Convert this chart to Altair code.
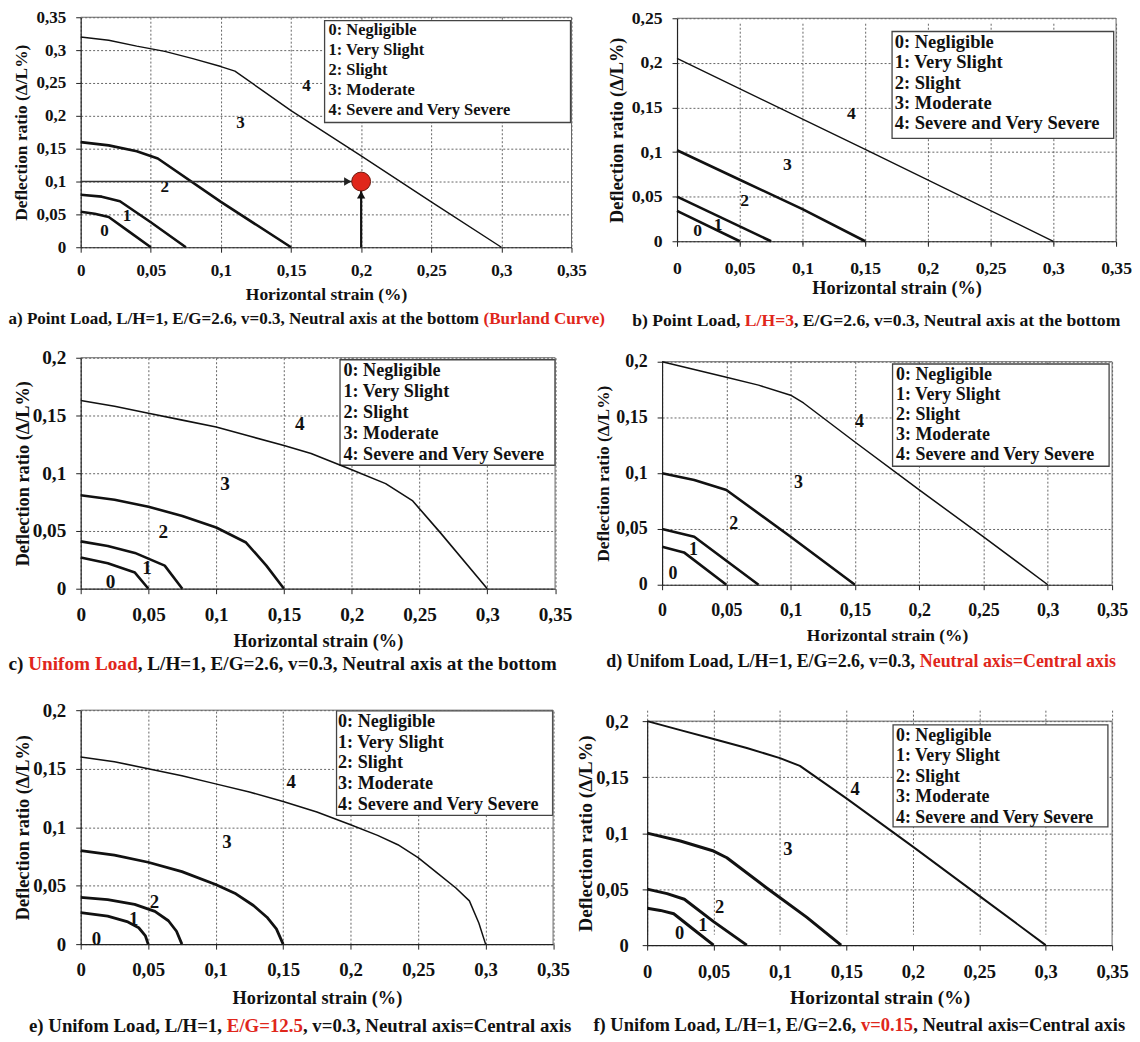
import altair as alt
import pandas as pd

FONT = "Liberation Serif"
RED = "#e0261b"
INK = "#111111"
FRAME = "#666666"

X_TITLE = "Horizontal strain (%)"
Y_TITLE = "Deflection ratio (Δ/L%)"
LEGEND_LINES = ["0: Negligible", "1: Very Slight", "2: Slight", "3: Moderate",
                "4: Severe and Very Severe"]
REGION_TEXT = ["0", "1", "2", "3", "4"]
X_TICKS = [0, 0.05, 0.1, 0.15, 0.2, 0.25, 0.3, 0.35]
Y_TICKS_035 = [0, 0.05, 0.1, 0.15, 0.2, 0.25, 0.3, 0.35]
Y_TICKS_025 = [0, 0.05, 0.1, 0.15, 0.2, 0.25]
Y_TICKS_020 = [0, 0.05, 0.1, 0.15, 0.2]

# ---------------- a) Point load, L/H=1 (Burland curve) ----------------
A_X = [[0, 0.01, 0.02, 0.035, 0.05],
       [0, 0.015, 0.028, 0.05, 0.075],
       [0, 0.02, 0.04, 0.055, 0.1, 0.15],
       [0, 0.02, 0.04, 0.06, 0.08, 0.1, 0.11, 0.13, 0.15, 0.2, 0.25, 0.3]]
A_Y = [[0.054, 0.051, 0.046, 0.023, 0],
       [0.08, 0.077, 0.07, 0.038, 0],
       [0.16, 0.155, 0.146, 0.135, 0.069, 0],
       [0.32, 0.315, 0.306, 0.298, 0.287, 0.275, 0.268, 0.238, 0.208, 0.139, 0.069, 0]]
A_LABEL_X = [0.017, 0.033, 0.06, 0.114, 0.161]
A_LABEL_Y = [0.024, 0.048, 0.091, 0.189, 0.246]
A_POINT_X = [0.2]
A_POINT_Y = [0.1]
A_CAPTION = ("a) Point Load, L/H=1, E/G=2.6, v=0.3, Neutral axis at the bottom ",
             "(Burland Curve)", "")

# ---------------- b) Point load, L/H=3 ----------------
B_X = [[0, 0.05],
       [0, 0.075],
       [0, 0.05, 0.1, 0.15],
       [0, 0.15, 0.3]]
B_Y = [[0.034, 0],
       [0.05, 0],
       [0.102, 0.069, 0.036, 0],
       [0.205, 0.103, 0]]
B_LABEL_X = [0.0164, 0.0328, 0.054, 0.088, 0.139]
B_LABEL_Y = [0.011, 0.018, 0.045, 0.086, 0.143]
B_CAPTION = ("b) Point Load, ", "L/H=3", ", E/G=2.6, v=0.3, Neutral axis at the bottom")

# ---------------- c) Uniform load, neutral axis at bottom ----------------
C_X = [[0, 0.02, 0.04, 0.05],
       [0, 0.02, 0.04, 0.062, 0.075],
       [0, 0.025, 0.05, 0.075, 0.1, 0.122, 0.137, 0.15],
       [0, 0.025, 0.05, 0.075, 0.1, 0.125, 0.15, 0.17, 0.2, 0.225, 0.245, 0.265, 0.3]]
C_Y = [[0.027, 0.022, 0.014, 0],
       [0.041, 0.037, 0.031, 0.02, 0],
       [0.081, 0.077, 0.071, 0.063, 0.053, 0.04, 0.02, 0],
       [0.163, 0.158, 0.152, 0.146, 0.14, 0.132, 0.124, 0.117, 0.103, 0.091, 0.076, 0.049, 0]]
C_LABEL_X = [0.022, 0.049, 0.061, 0.1065, 0.1616]
C_LABEL_Y = [0.006, 0.018, 0.0495, 0.091, 0.143]
C_CAPTION = ("c) ", "Unifom Load", ", L/H=1, E/G=2.6, v=0.3, Neutral axis at the bottom")

# ---------------- d) Uniform load, neutral axis = central axis ----------------
D_X = [[0, 0.017, 0.05],
       [0, 0.025, 0.075],
       [0, 0.025, 0.05, 0.1, 0.15],
       [0, 0.025, 0.05, 0.075, 0.1, 0.11, 0.15, 0.2, 0.25, 0.3]]
D_Y = [[0.034, 0.029, 0],
       [0.05, 0.043, 0],
       [0.1, 0.094, 0.085, 0.043, 0],
       [0.2, 0.193, 0.186, 0.179, 0.17, 0.163, 0.128, 0.085, 0.043, 0]]
D_LABEL_X = [0.0084, 0.0244, 0.0558, 0.106, 0.1535]
D_LABEL_Y = [0.0092, 0.031, 0.0546, 0.0908, 0.1457]
D_CAPTION = ("d) Unifom Load, L/H=1, E/G=2.6, v=0.3, ", "Neutral axis=Central axis", "")

# ---------------- e) Uniform load, E/G=12.5 ----------------
E_X = [[0, 0.02, 0.035, 0.043, 0.048, 0.05],
       [0, 0.02, 0.04, 0.055, 0.065, 0.071, 0.075],
       [0, 0.025, 0.05, 0.075, 0.1, 0.115, 0.128, 0.138, 0.145, 0.15],
       [0, 0.025, 0.05, 0.075, 0.1, 0.125, 0.15, 0.175, 0.2, 0.22, 0.235, 0.25,
        0.265, 0.278, 0.288, 0.295, 0.3]]
E_Y = [[0.027, 0.024, 0.019, 0.014, 0.007, 0],
       [0.04, 0.038, 0.034, 0.028, 0.02, 0.011, 0],
       [0.08, 0.076, 0.07, 0.062, 0.051, 0.043, 0.033, 0.023, 0.013, 0],
       [0.16, 0.156, 0.15, 0.144, 0.137, 0.13, 0.122, 0.113, 0.102, 0.093, 0.085, 0.074,
        0.06, 0.048, 0.037, 0.018, 0]]
E_LABEL_X = [0.0116, 0.0393, 0.0546, 0.1084, 0.156]
E_LABEL_Y = [0.0045, 0.0216, 0.0364, 0.087, 0.1386]
E_CAPTION = ("e) Unifom Load, L/H=1, ", "E/G=12.5", ", v=0.3, Neutral axis=Central axis")

# ---------------- f) Uniform load, v=0.15 ----------------
F_X = [[0, 0.01, 0.02, 0.035, 0.05],
       [0, 0.015, 0.028, 0.05, 0.075],
       [0, 0.025, 0.05, 0.06, 0.09, 0.12, 0.146],
       [0, 0.025, 0.05, 0.075, 0.1, 0.115, 0.15, 0.2, 0.25, 0.3]]
F_Y = [[0.033, 0.031, 0.028, 0.014, 0],
       [0.05, 0.046, 0.041, 0.021, 0],
       [0.1, 0.093, 0.084, 0.078, 0.051, 0.025, 0],
       [0.2, 0.192, 0.184, 0.176, 0.167, 0.16, 0.131, 0.088, 0.044, 0]]
F_LABEL_X = [0.0245, 0.042, 0.0545, 0.106, 0.1566]
F_LABEL_Y = [0.0107, 0.018, 0.0343, 0.086, 0.139]
F_CAPTION = ("f) Unifom Load, L/H=1, E/G=2.6, ", "v=0.15", ", Neutral axis=Central axis")

# ---------------- layout / style (pixels) ----------------
# vh: cell height; top/bot: pixel rows of the y-range ends inside the cell
LAYOUT = {
    "a": dict(w=493, vh=231, top=0, bot=231, fs=17.1, tfs=17.5, xlp=9.2, ylp=10,
              ytx=-59, xty=47, cap_x=-72.5, cap_y=72, lfs=16.5,
              box=(245, 492, 3.3, 105.7), tx=249, l0=13.3, step=19.85,
              thin=1.4, thick=2.6, pad=(72.5, 30, 10, 101)),
    "b": dict(w=441, vh=231, top=1, bot=225, fs=17.7, tfs=18.4, xlp=13.5, ylp=10,
              ytx=-61, xty=46.7, cap_x=-45, cap_y=80, lfs=18.6,
              box=(216, 438.6, 13.3, 120.7), tx=218.6, l0=24, step=20.4,
              thin=1.4, thick=2.6, pad=(71.5, 4, 10, 101)),
    "c": dict(w=476.5, vh=232, top=0, bot=232, fs=19.3, tfs=18.4, xlp=12, ylp=10,
              ytx=-58.5, xty=51.7, cap_x=-72.5, cap_y=76, lfs=18.2,
              box=(260.5, 476.5, 2, 108), tx=264, l0=13.7, step=20.9,
              thin=1.6, thick=2.6, pad=(72.5, 17, 10, 112)),
    "d": dict(w=452, vh=232, top=4, bot=228, fs=18.0, tfs=17.5, xlp=11.7, ylp=10,
              ytx=-58.5, xty=51, cap_x=-56, cap_y=78, lfs=18.0,
              box=(231.5, 449, 2.3, 105), tx=235, l0=13, step=20.1,
              thin=1.5, thick=2.6, pad=(90, 4, 10, 112)),
    "e": dict(w=474.5, vh=236, top=0, bot=235, fs=18.9, tfs=18.4, xlp=12, ylp=10,
              ytx=-58.5, xty=54, cap_x=-51.9, cap_y=82, lfs=18.2,
              box=(257, 474, 0.7, 105.7), tx=258.5, l0=11.7, step=20.8,
              thin=1.5, thick=2.8, pad=(72.5, 19, 10, 96)),
    "f": dict(w=467, vh=236, top=11, bot=236, fs=18.6, tfs=19.5, xlp=12.4, ylp=14,
              ytx=-62, xty=53, cap_x=-54, cap_y=80, lfs=17.9,
              box=(247, 462.8, 3.7, 106.3), tx=250, l0=14.7, step=20.6,
              thin=2.0, thick=3.0, pad=(75, 4, 10, 96)),
}

# advance widths (1/1000 em) of the bold serif face, used to butt caption segments
ADV = {" ": 250, "(": 333, ")": 333, ",": 250, ".": 250, "/": 278, ":": 333,
       "=": 570, "%": 1000, "A": 722, "B": 667, "C": 722, "D": 722, "E": 667,
       "G": 778, "H": 778, "L": 667, "N": 722, "P": 611, "U": 722, "V": 722,
       "a": 500, "b": 556, "c": 444, "d": 556, "e": 444, "f": 333, "g": 500,
       "h": 556, "i": 278, "l": 278, "m": 833, "n": 556, "o": 500, "r": 444,
       "s": 389, "t": 333, "u": 556, "v": 500, "x": 500, "y": 500, "z": 444}


def text_width(s, fs):
    return sum(ADV.get(ch, 500 if ch.isdigit() else 500) for ch in s) / 1000.0 * fs


COMMA = "replace(format(datum.value, '~g'), '.', ',')"


def one_row():
    return pd.DataFrame({"k": [0]})


def encoders(cfg, ymax, yticks):
    common = dict(labelExpr=COMMA, labelFont=FONT, labelFontSize=cfg["fs"],
                  labelFontWeight="bold", labelColor=INK, labelFlush=False,
                  labelOverlap=False, tickSize=5, tickColor="#222", tickWidth=1,
                  domainColor="#222", domainWidth=1.2, grid=True, gridColor="#555",
                  gridDash=[2, 2], gridWidth=0.9, titleFont=FONT,
                  titleFontSize=cfg["tfs"], titleFontWeight="bold", titleColor=INK,
                  titleBaseline="middle")
    ax = alt.Axis(values=X_TICKS, title=X_TITLE, labelPadding=cfg["xlp"],
                  titleY=cfg["xty"], offset=cfg["bot"] - cfg["vh"], **common)
    ay = alt.Axis(values=yticks, title=Y_TITLE, labelPadding=cfg["ylp"],
                  titleX=cfg["ytx"], **common)
    X = alt.X("x:Q", scale=alt.Scale(domain=[0, 0.35], nice=False, zero=False), axis=ax)
    Y = alt.Y("y:Q", scale=alt.Scale(domain=[0, ymax], range=[cfg["bot"], cfg["top"]],
                                     nice=False, zero=False), axis=ay)
    return X, Y


def panel(key, xs, ys, lab_x, lab_y, ymax, yticks, caption, point=None):
    cfg = LAYOUT[key]
    w, vh, top, bot = cfg["w"], cfg["vh"], cfg["top"], cfg["bot"]
    X, Y = encoders(cfg, ymax, yticks)

    rows = []
    for ci, (cx, cy) in enumerate(zip(xs, ys)):
        for oi, (xv, yv) in enumerate(zip(cx, cy)):
            rows.append({"curve": ci + 1, "o": oi, "x": xv, "y": yv})
    df = pd.DataFrame(rows)

    L, R, T, B = cfg["pad"]
    layers = []
    # invisible spacer controlling the panel's layout bounds
    layers.append(alt.Chart(one_row()).mark_rect(opacity=0).encode(
        x=alt.value(-L), x2=alt.value(w + R), y=alt.value(-T), y2=alt.value(vh + B)))

    # legend box
    bl, br, bt, bb = cfg["box"]
    layers.append(alt.Chart(one_row()).mark_rect(fill="white", stroke="#444",
                                                  strokeWidth=1.3).encode(
        x=alt.value(bl), x2=alt.value(br), y=alt.value(top + bt), y2=alt.value(top + bb)))
    for i, line in enumerate(LEGEND_LINES):
        layers.append(alt.Chart(one_row()).mark_text(
            font=FONT, fontWeight="bold", fontSize=cfg["lfs"], color=INK,
            align="left", baseline="middle").encode(
            x=alt.value(cfg["tx"]), y=alt.value(top + cfg["l0"] + i * cfg["step"]),
            text=alt.value(line)))

    # frame (top and right edges; bottom/left are the axis lines)
    layers.append(alt.Chart(one_row()).mark_rule(color=FRAME, strokeWidth=1).encode(
        x=alt.value(0), x2=alt.value(w), y=alt.value(top)))
    layers.append(alt.Chart(one_row()).mark_rule(color=FRAME, strokeWidth=1).encode(
        x=alt.value(w), y=alt.value(top), y2=alt.value(bot)))

    base = alt.Chart(df)
    layers.append(base.transform_filter("datum.curve < 4").mark_line(
        color=INK, strokeWidth=cfg["thick"], strokeJoin="round").encode(
        x=X, y=Y, detail="curve:N", order="o:Q"))
    layers.append(base.transform_filter("datum.curve == 4").mark_line(
        color=INK, strokeWidth=cfg["thin"], strokeJoin="round").encode(
        x=X, y=Y, order="o:Q"))

    lab_df = pd.DataFrame({"x": lab_x, "y": lab_y, "t": REGION_TEXT})
    layers.append(alt.Chart(lab_df).mark_text(
        font=FONT, fontWeight="bold", fontSize=cfg["fs"], color=INK,
        align="center", baseline="middle").encode(x=X, y=Y, text="t:N"))

    if point is not None:
        px, py = point
        hdf = pd.DataFrame({"x": [0.0], "x2": [px[0]], "y": [py[0]]})
        vdf = pd.DataFrame({"x": [px[0]], "y": [0.0], "y2": [py[0]]})
        pdf = pd.DataFrame({"x": px, "y": py})
        layers.append(alt.Chart(hdf).mark_rule(color="#333", strokeWidth=1.5).encode(
            x=X, x2="x2:Q", y=Y))
        layers.append(alt.Chart(vdf).mark_rule(color="#111", strokeWidth=2.2).encode(
            x=X, y=Y, y2="y2:Q"))
        layers.append(alt.Chart(pdf).mark_point(
            shape="triangle-right", filled=True, fill="#222", opacity=1,
            size=70, xOffset=-13.5).encode(x=X, y=Y))
        layers.append(alt.Chart(pdf).mark_point(
            shape="triangle-up", filled=True, fill="#111", opacity=1,
            size=70, yOffset=13.5).encode(x=X, y=Y))
        layers.append(alt.Chart(pdf).mark_point(
            shape="circle", filled=True, fill=RED, stroke="#6b1a10", strokeWidth=1,
            opacity=1, size=360).encode(x=X, y=Y))

    # caption: black / red / black segments placed one after another
    pre, red, suf = caption
    fs = cfg["fs"]
    ctext = dict(font=FONT, fontWeight="bold", fontSize=fs, align="left",
                 baseline="middle")
    cy = bot + cfg["cap_y"]
    x0 = cfg["cap_x"]
    x1 = x0 + text_width(pre, fs)
    x2 = x1 + text_width(red, fs)
    for seg, sx, col in ((pre.rstrip(), x0, INK), (red, x1, RED), (suf, x2, INK)):
        if seg:
            layers.append(alt.Chart(one_row()).mark_text(color=col, **ctext).encode(
                text=alt.value(seg), x=alt.value(sx), y=alt.value(cy)))

    return alt.layer(*layers).properties(width=w, height=vh)


pa = panel("a", A_X, A_Y, A_LABEL_X, A_LABEL_Y, 0.35, Y_TICKS_035, A_CAPTION,
           point=(A_POINT_X, A_POINT_Y))
pb = panel("b", B_X, B_Y, B_LABEL_X, B_LABEL_Y, 0.25, Y_TICKS_025, B_CAPTION)
pc = panel("c", C_X, C_Y, C_LABEL_X, C_LABEL_Y, 0.2, Y_TICKS_020, C_CAPTION)
pd_ = panel("d", D_X, D_Y, D_LABEL_X, D_LABEL_Y, 0.2, Y_TICKS_020, D_CAPTION)
pe = panel("e", E_X, E_Y, E_LABEL_X, E_LABEL_Y, 0.2, Y_TICKS_020, E_CAPTION)
pf = panel("f", F_X, F_Y, F_LABEL_X, F_LABEL_Y, 0.2, Y_TICKS_020, F_CAPTION)

row1 = alt.hconcat(pa, pb, spacing=0)
row2 = alt.hconcat(pc, pd_, spacing=0)
row3 = alt.hconcat(pe, pf, spacing=0)

chart = (alt.vconcat(row1, row2, row3, spacing=0)
         .properties(padding={"top": -3, "left": 0, "right": 0, "bottom": 0},
                     background="white")
         .configure_view(strokeWidth=0))

chart.save("out.html", embed_options={"renderer": "svg", "actions": False})
